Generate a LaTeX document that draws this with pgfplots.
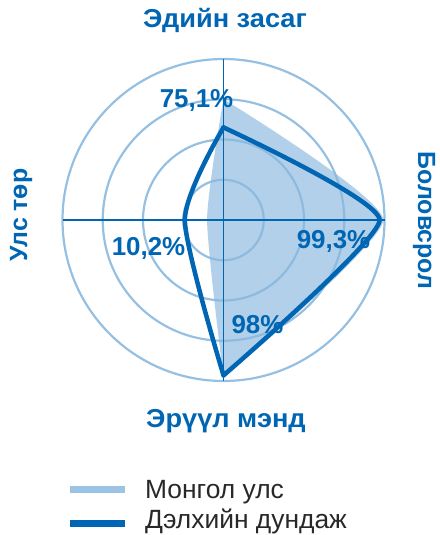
\documentclass[border=0pt]{standalone}
\usepackage{pgfplots}
\pgfplotsset{compat=1.18}
\usepackage{fontspec}
\setmainfont{Liberation Sans}
\definecolor{dblue}{RGB}{0,102,179}
\definecolor{fillc}{RGB}{137,183,221}
\definecolor{gridc}{RGB}{150,192,226}
\definecolor{legl}{RGB}{155,195,228}
\definecolor{txt}{RGB}{40,40,40}
\begin{document}
\begin{tikzpicture}[x=1bp,y=1bp]
\begin{axis}[at={(223.5bp,-220bp)}, anchor=center, width=322bp, height=322bp,
  scale only axis, xmin=-100, xmax=100, ymin=-100, ymax=100,
  hide axis, clip=false]
% grid circles
\draw[gridc, line width=2.2bp] (axis cs:0,0) circle[radius=40.25bp];
\draw[gridc, line width=2.2bp] (axis cs:0,0) circle[radius=80.5bp];
\draw[gridc, line width=2.2bp] (axis cs:0,0) circle[radius=120.75bp];
\draw[gridc, line width=2.2bp] (axis cs:0,0) circle[radius=161bp];
% Mongolia (filled)
\addplot[draw=none, fill=fillc, fill opacity=0.65, smooth, tension=0.3]
  coordinates {(0,75.1) (99.3,0) (0,-98)} -- cycle;
\addplot[draw=none, fill=fillc, fill opacity=0.65, smooth, tension=0.35, forget plot]
  coordinates {(0,-98) (-10.2,0) (0,75.1)} -- cycle;
% axis lines
\draw[dblue, line width=1.8bp] (axis cs:-100,0) -- (axis cs:100,0);
\draw[dblue, line width=1.8bp] (axis cs:0,-100) -- (axis cs:0,100);
% World average
\addplot[dblue, line width=4.5bp, smooth, tension=0.3, line join=round, line cap=round]
  coordinates {(0,57.5) (97,0) (0,-96.5)};
\addplot[dblue, line width=4.5bp, smooth, tension=0.4, line join=round, line cap=round, forget plot]
  coordinates {(0,-96.5) (-24,0) (0,57.5)};
\end{axis}
% category titles
\node[anchor=base, inner sep=0, dblue, font=\addfontfeature{FakeStretch=1.05}\bfseries\fontsize{26}{30}\selectfont] at (225,-28) {Эдийн засаг};
\node[anchor=base, inner sep=0, dblue, font=\addfontfeature{FakeStretch=1.05}\bfseries\fontsize{26}{30}\selectfont] at (226,-427) {Эрүүл мэнд};
\node[rotate=90, anchor=base, inner sep=0, dblue, font=\bfseries\fontsize{25}{30}\selectfont] at (27,-215) {Улс төр};
\node[rotate=-90, anchor=base, inner sep=0, dblue, font=\bfseries\fontsize{25}{30}\selectfont] at (418,-220.5) {Боловсрол};
% value labels
\node[anchor=base, inner sep=0, dblue, font=\bfseries\fontsize{26}{30}\selectfont] at (196.5,-108) {75,1\%};
\node[anchor=base, inner sep=0, dblue, font=\bfseries\fontsize{26}{30}\selectfont] at (333.5,-248) {99,3\%};
\node[anchor=base, inner sep=0, dblue, font=\bfseries\fontsize{26}{30}\selectfont] at (148.5,-255) {10,2\%};
\node[anchor=base, inner sep=0, dblue, font=\bfseries\fontsize{26}{30}\selectfont] at (257.5,-333) {98\%};
% legend
\draw[legl, line width=7bp] (70,-489.5) -- (125,-489.5);
\draw[dblue, line width=7bp] (70,-523) -- (125,-523);
\node[anchor=base west, inner sep=0, txt, font=\fontsize{26.5}{30}\selectfont] at (145,-498) {Монгол улс};
\node[anchor=base west, inner sep=0, txt, font=\fontsize{26.5}{30}\selectfont] at (145,-528) {Дэлхийн дундаж};
\pgfresetboundingbox
\path[use as bounding box] (0,0) rectangle (440,-535);
\end{tikzpicture}
\end{document}
